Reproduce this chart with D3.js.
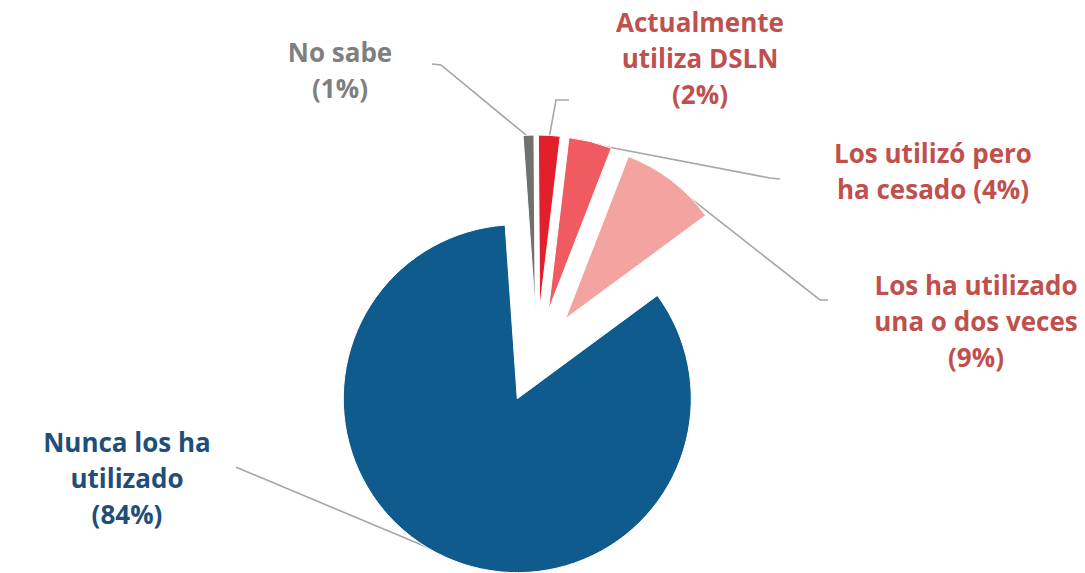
<!DOCTYPE html>
<html>
<head>
<meta charset="utf-8">
<script src="https://cdn.jsdelivr.net/npm/d3@7"></script>
<style>
  html, body { margin: 0; padding: 0; background: #ffffff; }
  svg { display: block; }
</style>
</head>
<body>
<svg id="chart" width="1085" height="573"></svg>
<script>
// ---- data ----
const categories = ["No sabe", "Actualmente utiliza DSLN", "Los utilizó pero ha cesado", "Los ha utilizado una o dos veces", "Nunca los ha utilizado"];
const values = [1, 2, 4, 9, 84];
const labelLines = [
  ["No sabe", "(1%)"],
  ["Actualmente", "utiliza DSLN", "(2%)"],
  ["Los utilizó pero", "ha cesado (4%)"],
  ["Los ha utilizado", "una o dos veces", "(9%)"],
  ["Nunca los ha", "utilizado", "(84%)"]
];
const sliceColors = ["#707070", "#e2202b", "#ef5b60", "#f4a4a0", "#0f5b8d"];
const labelColors = ["#7f7f7f", "#c0504d", "#c0504d", "#c0504d", "#1f4e79"];

// ---- layout ----
const svg = d3.select("#chart");
const cx = 537, cy = 356, R = 174, explode = 47;
const labelPos = [ [340, 62], [700, 32], [933, 163], [976, 295], [127, 452] ];
const lineH = 36;
// leader elbows: [elbow point, end point]
const leaders = [
  [[441, 65], [432, 64]],
  [[556, 100], [569, 100]],
  [[770, 178], [780, 179]],
  [[820, 300], [828, 300]],
  [[238, 468], [236, 467]]
];

const data = categories.map((c, i) => ({ name: c, value: values[i], i }));
const pie = d3.pie().value(d => d.value).sort(null)
  .startAngle(-4 * Math.PI / 180).endAngle(-4 * Math.PI / 180 + 2 * Math.PI);
const arcs = pie(data);
const arc = d3.arc().innerRadius(0).outerRadius(R);

function offset(a) {
  const m = (a.startAngle + a.endAngle) / 2;
  return [explode * Math.sin(m), -explode * Math.cos(m)];
}

// leader lines (below slices)
const lg = svg.append("g");
arcs.forEach((a, k) => {
  const m = (a.startAngle + a.endAngle) / 2;
  const o = offset(a);
  const sx = cx + o[0] + (R - 2) * Math.sin(m);
  const sy = cy + o[1] - (R - 2) * Math.cos(m);
  const pts = [[sx, sy], leaders[k][0], leaders[k][1]];
  lg.append("path")
    .attr("d", d3.line()(pts))
    .attr("fill", "none")
    .attr("stroke", "#a6a6a6")
    .attr("stroke-width", 1.6);
});

// slices
svg.append("g").selectAll("path")
  .data(arcs)
  .join("path")
  .attr("transform", a => { const o = offset(a); return `translate(${cx + o[0]},${cy + o[1]})`; })
  .attr("d", arc)
  .attr("fill", a => sliceColors[a.data.i])
  .attr("stroke", "#ffffff")
  .attr("stroke-width", 1);

// labels
const tg = svg.append("g")
  .attr("font-family", "'Open Sans', Lato, sans-serif")
  .attr("font-weight", "bold")
  .attr("font-size", 26)
  .attr("text-anchor", "middle");
labelLines.forEach((lines, k) => {
  const t = tg.append("text")
    .attr("x", labelPos[k][0])
    .attr("y", labelPos[k][1])
    .attr("fill", labelColors[k]);
  lines.forEach((ln, j) => {
    t.append("tspan")
      .attr("x", labelPos[k][0])
      .attr("y", labelPos[k][1] + j * lineH)
      .text(ln);
  });
});
</script>
</body>
</html>
